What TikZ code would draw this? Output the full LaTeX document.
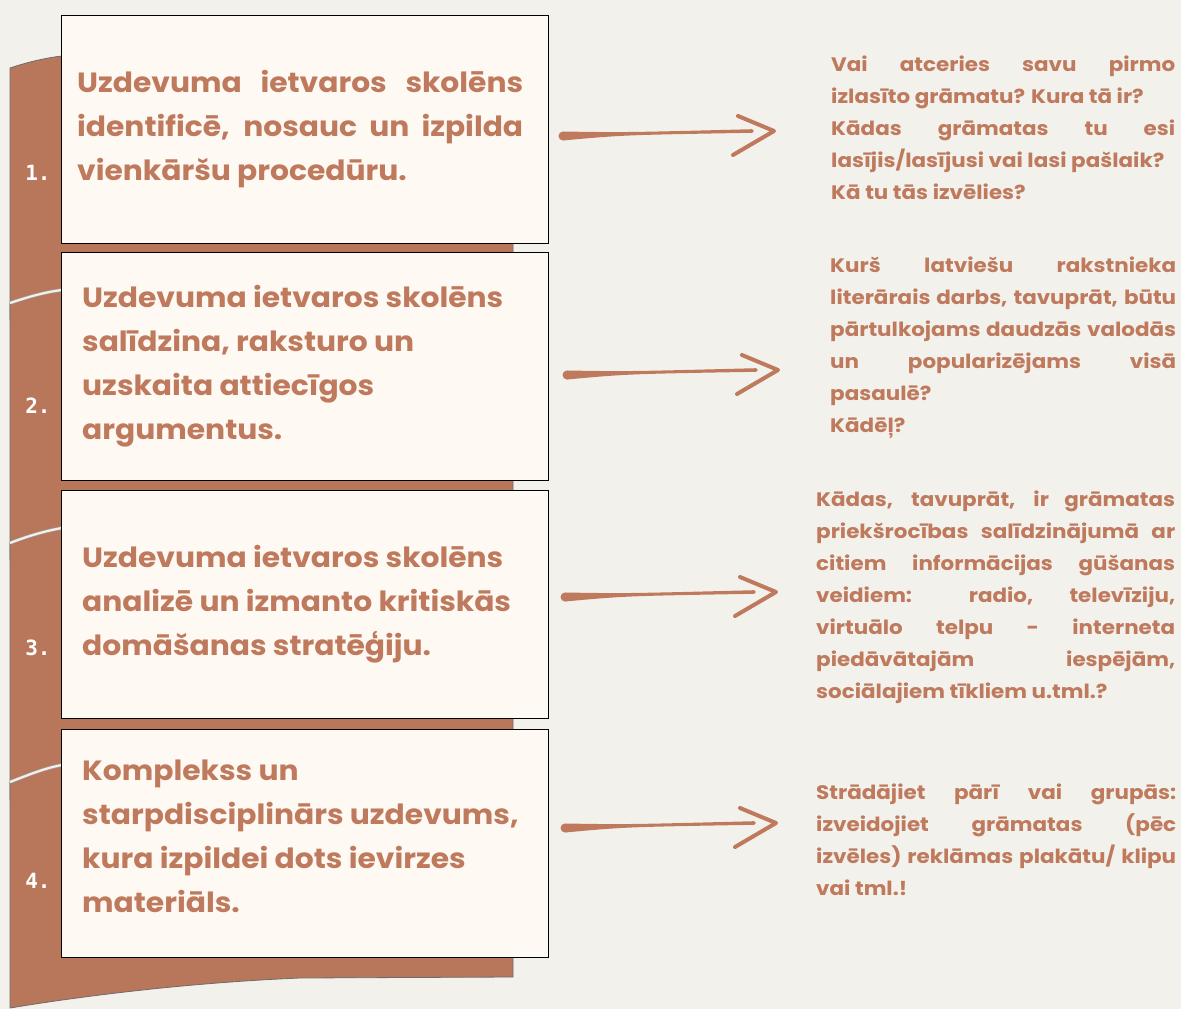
\documentclass[tikz,border=0pt]{standalone}
\usepackage{fontspec}
\newfontfamily\pop{Poppins}[FakeStretch=1.07]
\newfontfamily\popq{Poppins}[FakeStretch=1.1]
\newfontfamily\numf{DejaVu Sans Mono}
\definecolor{bgc}{HTML}{F3F1EC}
\definecolor{brn}{HTML}{B8775B}
\definecolor{txc}{HTML}{BF7A5E}
\definecolor{boxc}{HTML}{FEF9F3}
\newcommand\jl[2]{\makebox[#1][s]{#2}}
\begin{document}
\begin{tikzpicture}[x=1pt,y=-1pt,
  ribbon/.style={fill=brn, draw=gray!85!black, line width=0.8pt},
  seam/.style={draw=gray!75, double=bgc, double distance=2.2pt, line width=0.6pt},
  stepbox/.style={draw=black, fill=boxc, line width=1.3pt, inner sep=0, anchor=north west},
  boxtxt/.style={inner sep=0, anchor=base west, text=txc, font=\pop\bfseries\fontsize{27.8}{44}\selectfont},
  qtxt/.style={inner sep=0, anchor=base west, text=txc, font=\popq\bfseries\fontsize{19.5}{32}\selectfont},
  num/.style={text=white, inner sep=0, font=\numf\bfseries\fontsize{21}{21}\selectfont},
  harrow/.pic={
    \fill[txc] (0,-4.5) .. controls (60,-3.5) .. (189,-6.8) -- (189,-3.2) .. controls (60,-1) .. (0,4.5) -- cycle;
    \fill[txc] (0,0) circle (4.5);
    \fill[txc] (189,-5) circle (1.8);
    \draw[txc, line width=4pt, line cap=round, line join=round] (175,-20) -- (211,-5) -- (170,19);
  }
]
\useasboundingbox (0,0) rectangle (1181,1009);
\fill[bgc] (0,0) rectangle (1181,1009);

% ribbons
\draw[ribbon] (10,68) .. controls (28,62) and (45,58) .. (62,56) -- (513,56) -- (513,320) -- (10,320) -- cycle;
\draw[ribbon] (10,303) .. controls (28,297) and (45,292) .. (62,290) -- (513,290) -- (513,560) -- (10,560) -- cycle;
\draw[seam] (10,303) .. controls (28,297) and (45,292) .. (62,290) -- (70,290);
\draw[ribbon] (10,543) .. controls (28,536) and (45,531) .. (62,528) -- (513,528) -- (513,800) -- (10,800) -- cycle;
\draw[seam] (10,543) .. controls (28,536) and (45,531) .. (62,528) -- (70,528);
\draw[ribbon] (10,782) .. controls (28,775) and (45,768) .. (62,765) -- (513,765) -- (513,977) -- (300,978) .. controls (180,983) and (70,998) .. (10,1008) -- cycle;
\draw[seam] (10,782) .. controls (28,775) and (45,768) .. (62,765) -- (70,765);

% numbers
\node[num] (n1) at (38,173) {1.};
\node[num] (n2) at (38,406) {2.};
\node[num] (n3) at (38,648) {3.};
\node[num] (n4) at (38,881) {4.};

% boxes
\node[stepbox, minimum width=487pt, minimum height=228pt] (b1) at (61,15) {};
\node[stepbox, minimum width=487pt, minimum height=228pt] (b2) at (61,252) {};
\node[stepbox, minimum width=487pt, minimum height=228pt] (b3) at (61,490) {};
\node[stepbox, minimum width=487pt, minimum height=228pt] (b4) at (61,729) {};

\node[boxtxt] (t1) at (77,92) {\parbox[t]{446pt}{\jl{446pt}{Uzdevuma ietvaros skolēns}\\\jl{446pt}{identificē, nosauc un izpilda}\\vienkāršu procedūru.}};
\node[boxtxt] (t2) at (82,307) {\parbox[t]{450pt}{Uzdevuma ietvaros skolēns\\salīdzina, raksturo un\\uzskaita attiecīgos\\argumentus.}};
\node[boxtxt] (t3) at (82,567) {\parbox[t]{450pt}{Uzdevuma ietvaros skolēns\\analizē un izmanto kritiskās\\domāšanas stratēģiju.}};
\node[boxtxt] (t4) at (82,780) {\parbox[t]{450pt}{Komplekss un\\starpdisciplinārs uzdevums,\\kura izpildei dots ievirzes\\materiāls.}};

% questions
\node[qtxt] (q1) at (831,71) {\parbox[t]{344pt}{\jl{344pt}{Vai atceries savu pirmo}\\izlasīto grāmatu? Kura tā ir?\\\jl{344pt}{Kādas grāmatas tu esi}\\lasījis/lasījusi vai lasi pašlaik?\\Kā tu tās izvēlies?}};
\node[qtxt] (q2) at (830,272) {\parbox[t]{346pt}{\jl{346pt}{Kurš latviešu rakstnieka}\\\jl{346pt}{literārais darbs, tavuprāt, būtu}\\\jl{346pt}{pārtulkojams daudzās valodās}\\\jl{346pt}{un popularizējams visā}\\pasaulē?\\Kādēļ?}};
\node[qtxt] (q3) at (816,506) {\parbox[t]{359pt}{\jl{359pt}{Kādas, tavuprāt, ir grāmatas}\\\jl{359pt}{priekšrocības salīdzinājumā ar}\\\jl{359pt}{citiem informācijas gūšanas}\\\jl{359pt}{veidiem: radio, televīziju,}\\\jl{359pt}{virtuālo telpu - interneta}\\\jl{359pt}{piedāvātajām iespējām,}\\sociālajiem tīkliem u.tml.?}};
\node[qtxt] (q4) at (816,799) {\parbox[t]{360pt}{\jl{360pt}{Strādājiet pārī vai grupās:}\\\jl{360pt}{izveidojiet grāmatas (pēc}\\\jl{360pt}{izvēles) reklāmas plakātu/ klipu}\\vai tml.!}};

% arrows
\coordinate (a1) at (563,136);
\coordinate (a2) at (567,375);
\coordinate (a3) at (565,597);
\coordinate (a4) at (565,828);
\pic at (a1) {harrow};
\pic at (a2) {harrow};
\pic at (a3) {harrow};
\pic at (a4) {harrow};
\end{tikzpicture}
\end{document}
